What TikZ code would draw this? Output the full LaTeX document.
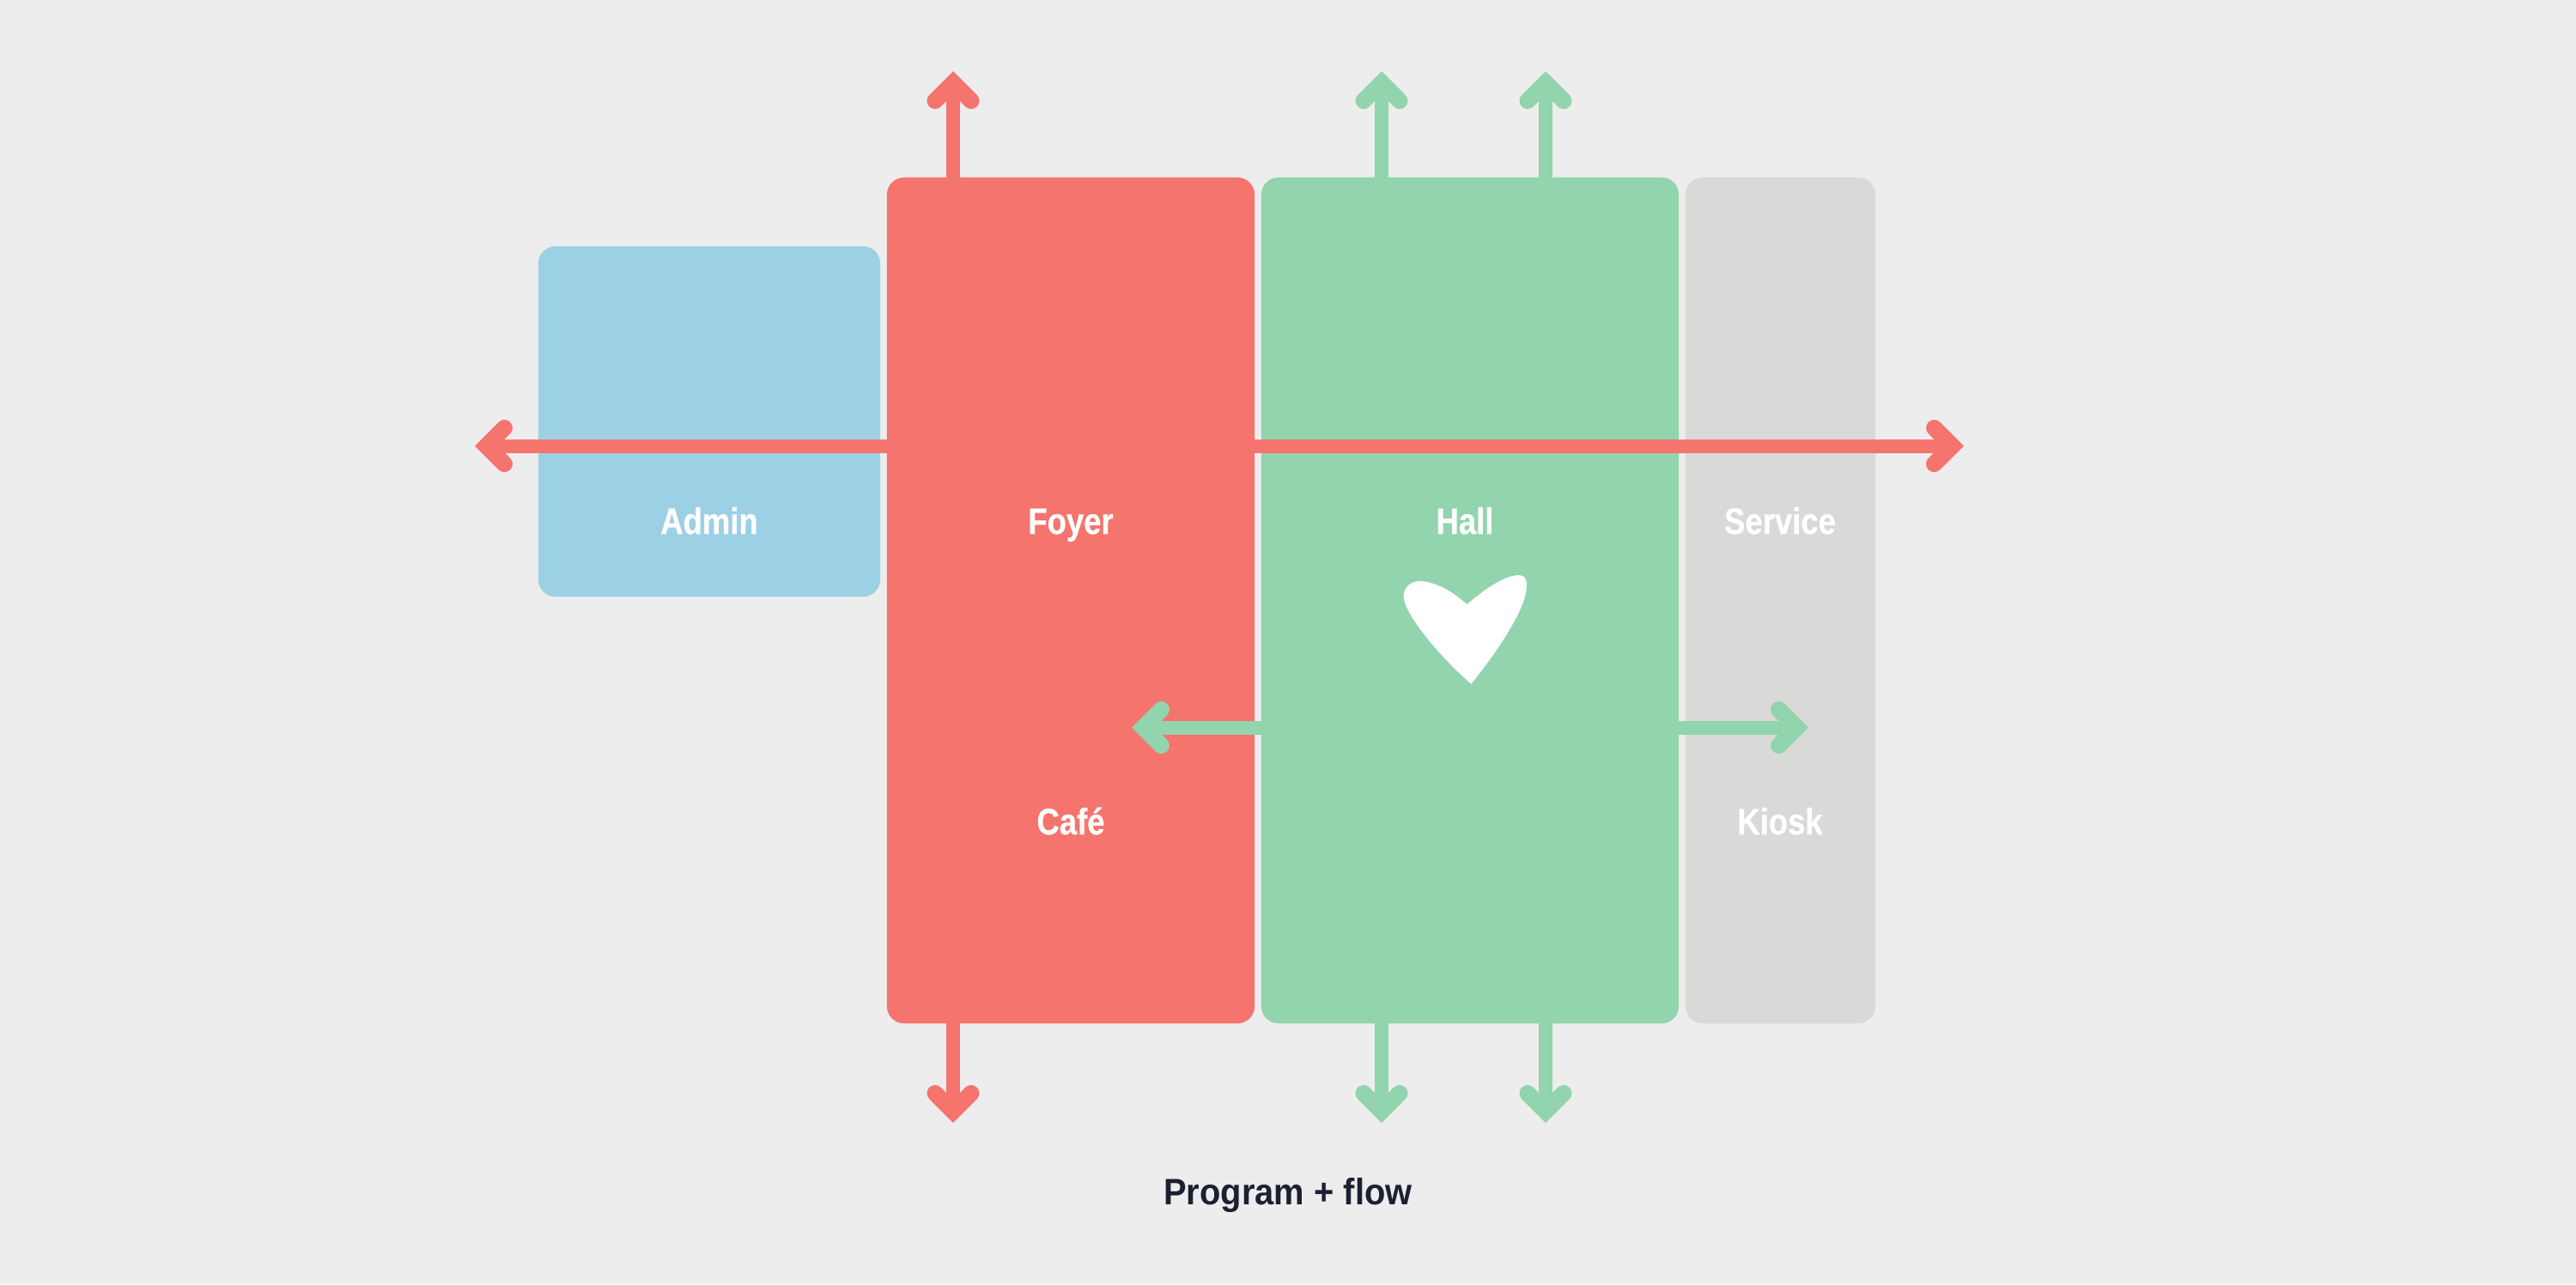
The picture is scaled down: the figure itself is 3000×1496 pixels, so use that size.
\documentclass[tikz,border=0pt]{standalone}
\usepackage{xcolor}
\usepackage{fontspec}
\usetikzlibrary{arrows.meta}
\newfontfamily\roomfont[FakeStretch=.85,FakeBold=.5]{Liberation Sans}
\newfontfamily\titlefont[FakeStretch=.93]{Liberation Sans}
\definecolor{bgrey}{HTML}{EDEDED}
\definecolor{fred}{HTML}{F5746E}
\definecolor{hgreen}{HTML}{91D4AD}
\definecolor{ablue}{HTML}{9CD0E5}
\definecolor{sgrey}{HTML}{D9D9D7}
\definecolor{ink}{HTML}{1D2030}

\begin{document}
\begin{tikzpicture}[x=.01cm,y=-.01cm,
        room/.style={rectangle,rounded corners=.2cm,inner sep=0pt,minimum width=#1},
        roomlabel/.style={inner sep=0pt,anchor=base,text=white,font=\roomfont\bfseries\fontsize{12.2}{14}\selectfont},
        flow/.style={line width=.16cm,-{Straight Barb[length=.21cm,width=.42cm,line width=.19cm,line cap=round,line join=miter]}}]
        \fill[bgrey] (0,0) rectangle (3000,1496);

        %rooms
        \node[room=3.98cm,fill=ablue,minimum height=4.08cm] (admin) at (826,491){};
        \node[room=4.28cm,fill=fred,minimum height=9.85cm] (foyer) at (1247,699.5){};
        \node[room=4.86cm,fill=hgreen,minimum height=9.85cm] (hall) at (1712,699.5){};
        \node[room=2.21cm,fill=sgrey,minimum height=9.85cm] (service) at (2073.5,699.5){};

        %labels
        \node[roomlabel] (adminl) at (826,622){Admin};
        \node[roomlabel] (foyerl) at (1247,622){Foyer};
        \node[roomlabel] (halll) at (1706,622){Hall};
        \node[roomlabel] (servicel) at (2073,622){Service};
        \node[roomlabel] (cafel) at (1247,972){Café};
        \node[roomlabel] (kioskl) at (2073,972){Kiosk};
        \node[inner sep=0pt,anchor=base,text=ink,font=\titlefont\bfseries\fontsize{12.2}{14}\selectfont] (title) at (1500,1403){Program + flow};

        %heart
        \fill[white] (1708.3,704) .. controls (1685,683) and (1665,677) .. (1653,677)
        .. controls (1642,677) and (1634.7,685) .. (1634.7,695)
        .. controls (1636,718) and (1682,770) .. (1713.3,796.7)
        .. controls (1735,770) and (1778,712) .. (1778,682)
        .. controls (1778,674) and (1775,670) .. (1769,670)
        .. controls (1752,670) and (1730,686) .. (1708.3,704) -- cycle;

        %arrow ends
        \coordinate (up1) at (1110,83);
        \coordinate (up2) at (1609,83);
        \coordinate (up3) at (1800,83);
        \coordinate (down1) at (1110,1308);
        \coordinate (down2) at (1609,1308);
        \coordinate (down3) at (1800,1308);
        \coordinate (left1) at (553,519.5);
        \coordinate (right1) at (2287,519.5);
        \coordinate (left2) at (1318,847.5);
        \coordinate (right2) at (2106,847.5);

        %flows
        \draw[flow,hgreen] (up2 |- hall.center)--(up2);
        \draw[flow,hgreen] (up3 |- hall.center)--(up3);
        \draw[flow,hgreen] (down2 |- hall.center)--(down2);
        \draw[flow,hgreen] (down3 |- hall.center)--(down3);
        \draw[flow,hgreen] (hall.center |- left2)--(left2);
        \draw[flow,hgreen] (hall.center |- right2)--(right2);
        \draw[flow,fred] (up1 |- foyer.center)--(up1);
        \draw[flow,fred] (down1 |- foyer.center)--(down1);
        \draw[flow,fred] (foyer.center |- left1)--(left1);
        \draw[flow,fred] (foyer.center |- right1)--(right1);
\end{tikzpicture}
\end{document}
